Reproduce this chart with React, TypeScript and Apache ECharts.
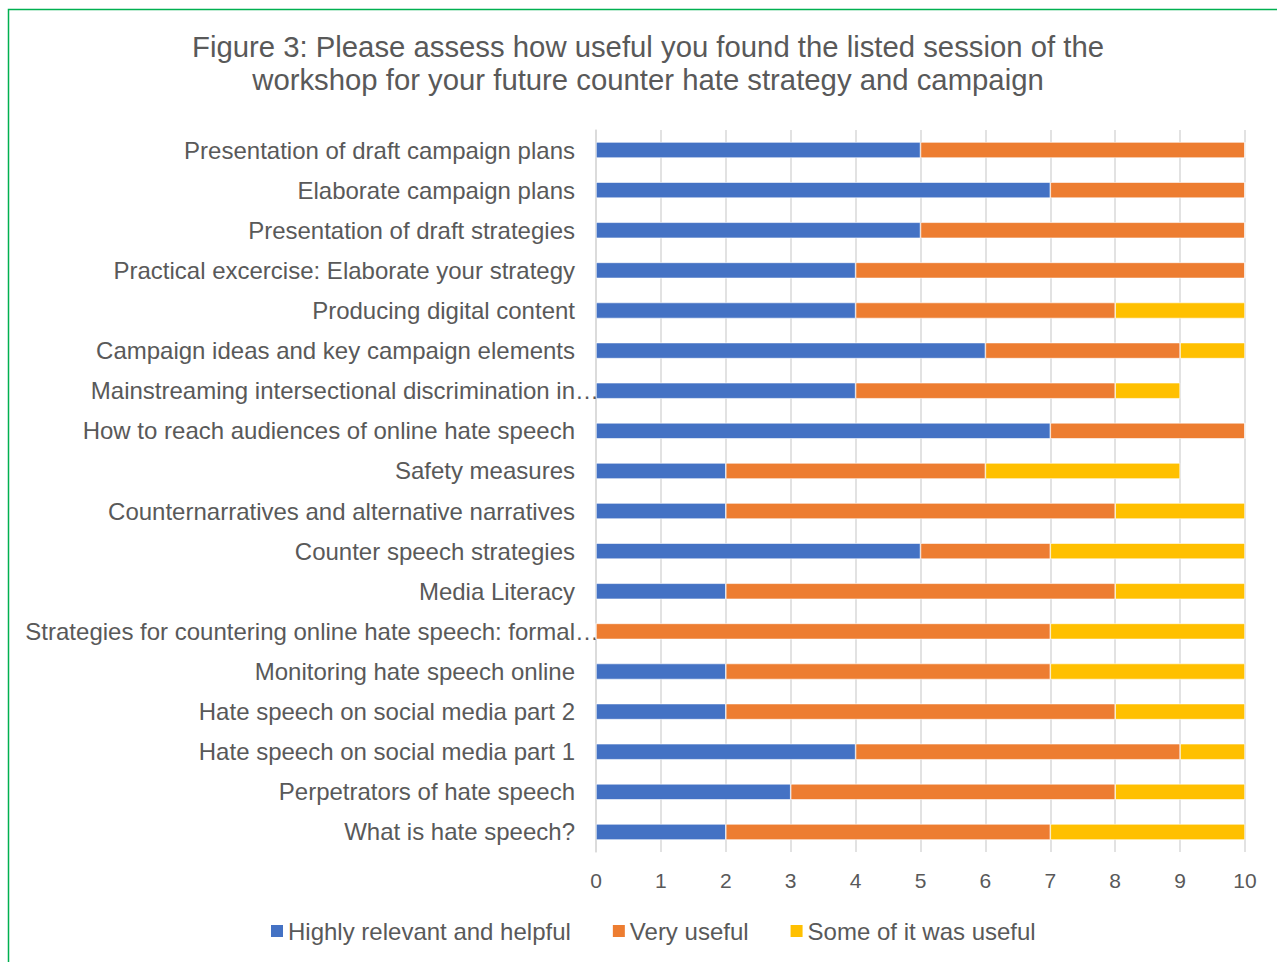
import React, { useEffect, useRef } from "react";
import * as echarts from "echarts";

const categories = [
  "Presentation of draft campaign plans",
  "Elaborate campaign plans",
  "Presentation of draft strategies",
  "Practical excercise: Elaborate your strategy",
  "Producing digital content",
  "Campaign ideas and key campaign elements",
  "Mainstreaming intersectional discrimination in…",
  "How to reach audiences of online hate speech",
  "Safety measures",
  "Counternarratives and alternative narratives",
  "Counter speech strategies",
  "Media Literacy",
  "Strategies for countering online hate speech: formal…",
  "Monitoring hate speech online",
  "Hate speech on social media part 2",
  "Hate speech on social media part 1",
  "Perpetrators of hate speech",
  "What is hate speech?",
];

const highlyRelevant = [5, 7, 5, 4, 4, 6, 4, 7, 2, 2, 5, 2, 0, 2, 2, 4, 3, 2];
const veryUseful = [5, 3, 5, 6, 4, 3, 4, 3, 4, 6, 2, 6, 7, 5, 6, 5, 5, 5];
const someUseful = [0, 0, 0, 0, 2, 1, 1, 0, 3, 2, 3, 2, 3, 3, 2, 1, 2, 3];

const seriesNames = ["Highly relevant and helpful", "Very useful", "Some of it was useful"];
const xTicks = { min: 0, max: 10, interval: 1 };
const titleText =
  "Figure 3: Please assess how useful you found the listed session of the\nworkshop for your future counter hate strategy and campaign";

const FONT = "'Liberation Sans', Arial, sans-serif";
const TEXT = "#595959";

export default function App() {
  const ref = useRef<HTMLDivElement>(null);
  useEffect(() => {
    if (!ref.current) return;
    const chart = echarts.init(ref.current, null, { renderer: "svg" });
    const colors = ["#4472C4", "#ED7D31", "#FFC000"];
    const data = [highlyRelevant, veryUseful, someUseful];
    chart.setOption({
      animation: false,
      backgroundColor: "#ffffff",
      textStyle: { fontFamily: FONT },
      title: {
        text: titleText,
        left: 643,
        top: 25,
        textAlign: "center",
        textStyle: {
          fontFamily: FONT,
          fontSize: 29.3,
          fontWeight: "normal",
          color: TEXT,
          lineHeight: 33,
        },
      },
      graphic: [
        {
          type: "rect",
          shape: { x: 8.5, y: 9.5, width: 1400, height: 1100 },
          style: { fill: "none", stroke: "#00B050", lineWidth: 1.5 },
          silent: true,
        },
      ],
      legend: {
        left: 264,
        top: 914,
        itemWidth: 14,
        itemHeight: 14,
        itemGap: 40,
        icon: "rect",
        textStyle: { fontFamily: FONT, fontSize: 24, color: TEXT, padding: [0, 0, 0, -1] },
        data: seriesNames,
      },
      grid: { left: 596, right: 32, top: 130, bottom: 110, containLabel: false },
      xAxis: {
        type: "value",
        min: xTicks.min,
        max: xTicks.max,
        interval: xTicks.interval,
        axisLine: { show: false },
        axisTick: { show: false },
        splitLine: { show: true, lineStyle: { color: "#D9D9D9", width: 1.5 } },
        axisLabel: { fontFamily: FONT, fontSize: 21, color: TEXT, margin: 18 },
      },
      yAxis: {
        type: "category",
        inverse: true,
        data: categories,
        axisLine: { show: true, lineStyle: { color: "#D9D9D9", width: 1.5 } },
        axisTick: { show: false },
        axisLabel: {
          fontFamily: FONT,
          fontSize: 24,
          color: TEXT,
          margin: 21,
          formatter: (v: string) =>
            v.endsWith("…") ? `{a|${v.slice(0, -1)}}{e|…}` : `{a|${v}}`,
          rich: {
            a: { fontFamily: FONT, fontSize: 24, color: TEXT },
            e: {
              fontFamily: FONT,
              fontSize: 24,
              color: TEXT,
              align: "left",
              padding: [0, -24, 0, 0],
            },
          },
        },
      },
      series: data.map((d, i) => ({
        name: seriesNames[i],
        type: "bar",
        stack: "total",
        barWidth: 16,
        itemStyle: { color: colors[i], borderColor: "#ffffff", borderWidth: 0.6 },
        data: d,
      })),
    });
    return () => chart.dispose();
  }, []);
  return (
    <div
      ref={ref}
      style={{ position: "fixed", left: 0, top: 0, width: 1277, height: 962 }}
    />
  );
}
